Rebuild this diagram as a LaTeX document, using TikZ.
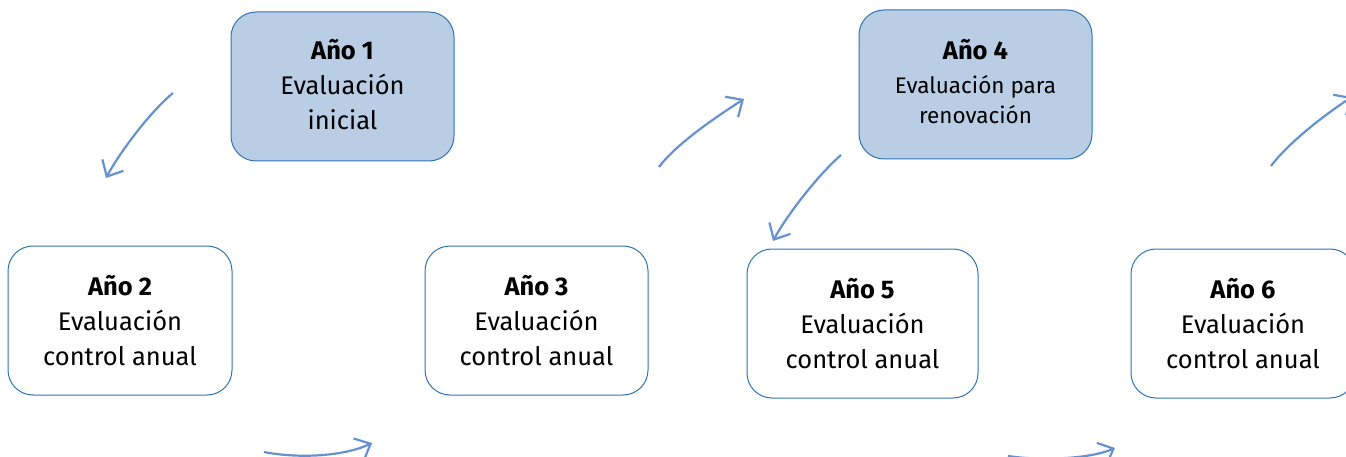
\documentclass[tikz,border=0pt]{standalone}
\usepackage{fontspec}
\setmainfont{Fira Sans}
\usetikzlibrary{arrows.meta}
\definecolor{boxblue}{HTML}{2E74B5}
\definecolor{fillblue}{HTML}{B9CDE5}
\definecolor{arrblue}{HTML}{6592CF}
\newcommand{\liftby}[1]{\rule[-#1]{0pt}{#1}}
\tikzset{
  yearbox/.style={draw=boxblue, line width=1pt, rounded corners=25pt, align=center,
    inner sep=0pt, minimum height=149pt, font=\fontsize{25.5}{35}\selectfont},
  keybox/.style={yearbox, fill=fillblue},
  flow/.style={draw=arrblue, line width=2.2pt,
    -{Straight Barb[length=13pt,width=24pt,line width=2.2pt]}}
}
\begin{document}
\begin{tikzpicture}[x=1pt,y=-1pt]
\useasboundingbox (0,0) rectangle (1346,457);
\clip (0,0) rectangle (1346,457);
\node[keybox, minimum width=223pt] (b1) at (342.5,86.5) {\textbf{Año 1}\\Evaluación\\inicial\liftby{4pt}};
\node[keybox, minimum width=233pt, font=\fontsize{22.5}{30}\selectfont] (b4) at (975.5,84.5)
  {{\fontsize{25.5}{30}\selectfont\textbf{Año 4}}\\[4pt]Evaluación para\\renovación\liftby{6pt}};
\node[yearbox, minimum width=224pt] (b2) at (120,320.5) {\textbf{Año 2}\\Evaluación\\control anual};
\node[yearbox, minimum width=223pt] (b3) at (536.5,320.5) {\textbf{Año 3}\\Evaluación\\control anual};
\node[yearbox, minimum width=231pt] (b5) at (862.5,323.5) {\textbf{Año 5}\\Evaluación\\control anual};
\node[yearbox, minimum width=224pt] (b6) at (1243,323.5) {\textbf{Año 6}\\Evaluación\\control anual};
% arrow end points
\coordinate (a1s) at (173,93);   \coordinate (a1e) at (106,178);
\coordinate (a2s) at (264,452);  \coordinate (a2e) at (372,443);
\coordinate (a3s) at (659,167);  \coordinate (a3e) at (744,99);
\coordinate (a4s) at (841,155);  \coordinate (a4e) at (773,241);
\coordinate (a5s) at (1008,456); \coordinate (a5e) at (1115,448);
\coordinate (a6s) at (1271,166); \coordinate (a6e) at (1352,97);
\draw[flow] (a1s) .. controls (150,112) and (120,152) .. (a1e);
\draw[flow] (a2s) .. controls (300,459) and (345,456) .. (a2e);
\draw[flow] (a3s) .. controls (677,143) and (719,115) .. (a3e);
\draw[flow] (a4s) .. controls (818,175) and (787,215) .. (a4e);
\draw[flow] (a5s) .. controls (1040,461) and (1090,459) .. (a5e);
\draw[flow] (a6s) .. controls (1289,142) and (1327,113) .. (a6e);
\end{tikzpicture}
\end{document}
